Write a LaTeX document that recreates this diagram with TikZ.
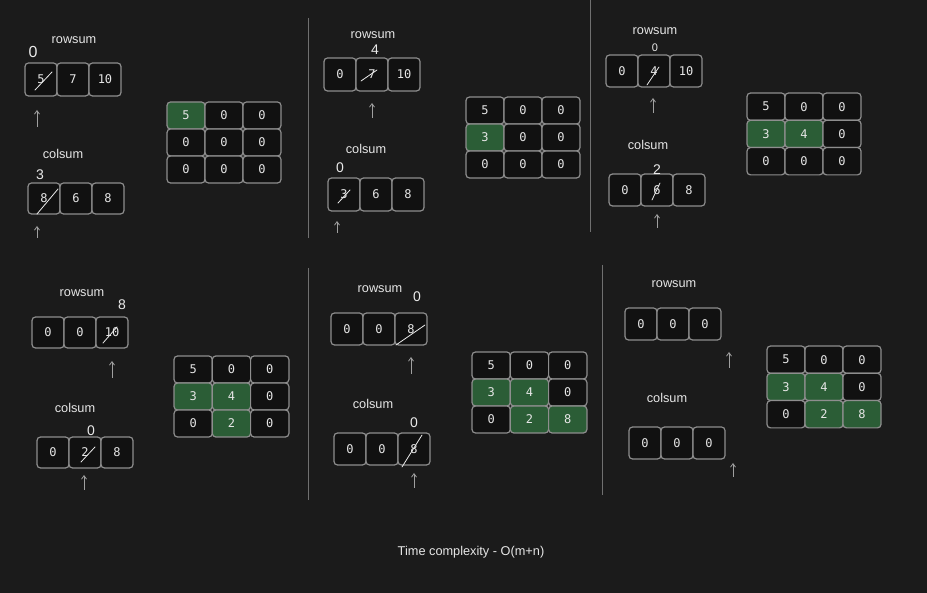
\documentclass[tikz,border=0pt]{standalone}
\usepackage{fontspec}
\setmainfont{Liberation Sans}
\newfontfamily\monof{DejaVu Sans Mono}
\usetikzlibrary{arrows.meta}
\definecolor{bgc}{HTML}{1B1B1B}
\definecolor{cellfill}{HTML}{111111}
\definecolor{cellline}{HTML}{8E8E8E}
\definecolor{txt}{HTML}{E6E6E6}
\definecolor{grn}{HTML}{2B5D36}
\definecolor{divc}{HTML}{707070}
\definecolor{pen}{HTML}{A0A0A0}
\newcommand\cellat[7]{\node[cell,fill=#6,minimum width=#4pt,minimum height=#5pt] (#1) at ({#2+#4/2},{#3+#5/2}) {#7};}
\newcommand\cellrow[8]{%
  \cellat{#1a}{#2}{#3}{#4}{#5}{cellfill}{#6}%
  \cellat{#1b}{#2+#4}{#3}{#4}{#5}{cellfill}{#7}%
  \cellat{#1c}{#2+2*#4}{#3}{#4}{#5}{cellfill}{#8}}
\newcommand\gridcells[6]{%
  \foreach \v/\f [count=\k from 0] in {#6} {%
    \pgfmathtruncatemacro\rr{int(\k/3)}%
    \pgfmathtruncatemacro\cc{mod(\k,3)}%
    \node[cell,fill=\f,minimum width=#4pt,minimum height=#5pt] (#1-\rr-\cc) at ({#2+(\cc+0.5)*#4},{#3+(\rr+0.5)*#5}) {\v};
  }}
\begin{document}
\begin{tikzpicture}[x=1pt,y=-1pt,
  cell/.style={draw=cellline,line width=1.2pt,rounded corners=3.5pt,inner sep=0pt,text=txt,font=\monof\fontsize{12}{12}\selectfont},
  lbl/.style={text=txt,font=\fontsize{12.75}{14}\selectfont,inner sep=0pt},
  hand/.style={text=txt!85,font=\fontsize{14}{15}\selectfont,inner sep=0pt},
  uparrow/.style={draw=pen,line width=0.8pt,-{Straight Barb[length=3.5pt,width=5pt]}},
  strike/.style={draw=txt!85,line width=0.8pt,line cap=round},
  divider/.style={draw=divc,line width=1pt}]
\fill[bgc] (0,0) rectangle (927,593);
\useasboundingbox (0,0) rectangle (927,593);

% dividers
\draw[divider] (308,18) -- (308,238);
\draw[divider] (590,0) -- (590,232);
\draw[divider] (308,268) -- (308,500);
\draw[divider] (602,265) -- (602,495);

% ---------- Panel 1 ----------
\node[lbl] (l1r) at (74,40) {rowsum};
\node[lbl] (l1c) at (63,154) {colsum};
\cellrow{p1r}{25}{63}{32}{33}{5}{7}{10}
\cellrow{p1c}{28}{183}{32}{31}{8}{6}{8}
\gridcells{m1}{167}{102}{38}{27}{5/grn,0/cellfill,0/cellfill,0/cellfill,0/cellfill,0/cellfill,0/cellfill,0/cellfill,0/cellfill}
\node[hand,font=\fontsize{16}{17}\selectfont] (h1a) at (33,52) {0};
\node[hand] (h1b) at (40,175) {3};
\draw[strike] (35,90) -- (52,72);
\draw[strike] (37,214) -- (58,189);
\coordinate (a1s) at (37,127); \coordinate (a1e) at (37,110);
\draw[uparrow] (a1s) -- (a1e);
\coordinate (a2s) at (37,238); \coordinate (a2e) at (37,226);
\draw[uparrow] (a2s) -- (a2e);

% ---------- Panel 2 ----------
\node[lbl] (l2r) at (373,35) {rowsum};
\node[lbl] (l2c) at (366,149) {colsum};
\cellrow{p2r}{324}{58}{32}{33}{0}{7}{10}
\cellrow{p2c}{328}{178}{32}{33}{3}{6}{8}
\gridcells{m2}{466}{97}{38}{27}{5/cellfill,0/cellfill,0/cellfill,3/grn,0/cellfill,0/cellfill,0/cellfill,0/cellfill,0/cellfill}
\node[hand] (h2a) at (375,50) {4};
\node[hand] (h2b) at (340,168) {0};
\draw[strike] (361,81) -- (377,70);
\draw[strike] (338,203) -- (350,190);
\coordinate (a3s) at (372,118); \coordinate (a3e) at (372,103);
\draw[uparrow] (a3s) -- (a3e);
\coordinate (a4s) at (337,233); \coordinate (a4e) at (337,221);
\draw[uparrow] (a4s) -- (a4e);

% ---------- Panel 3 ----------
\node[lbl] (l3r) at (655,31) {rowsum};
\node[lbl] (l3c) at (648,145) {colsum};
\cellrow{p3r}{606}{55}{32}{32}{0}{4}{10}
\cellrow{p3c}{609}{174}{32}{32}{0}{6}{8}
\gridcells{m3}{747}{93}{38}{27.3}{5/cellfill,0/cellfill,0/cellfill,3/grn,4/grn,0/cellfill,0/cellfill,0/cellfill,0/cellfill}
\node[hand,font=\fontsize{11}{12}\selectfont] (h3a) at (655,48) {0};
\node[hand] (h3b) at (657,170) {2};
\draw[strike] (647,85) -- (659,67);
\draw[strike] (652,200) -- (660,183);
\coordinate (a5s) at (653,113); \coordinate (a5e) at (653,98);
\draw[uparrow] (a5s) -- (a5e);
\coordinate (a6s) at (657,228); \coordinate (a6e) at (657,214);
\draw[uparrow] (a6s) -- (a6e);

% ---------- Panel 4 ----------
\node[lbl] (l4r) at (82,293) {rowsum};
\node[lbl] (l4c) at (75,408) {colsum};
\cellrow{p4r}{32}{317}{32}{31}{0}{0}{10}
\cellrow{p4c}{37}{437}{32}{31}{0}{2}{8}
\gridcells{m4}{174}{356}{38.3}{27}{5/cellfill,0/cellfill,0/cellfill,3/grn,4/grn,0/cellfill,0/cellfill,2/grn,0/cellfill}
\node[hand] (h4a) at (122,305) {8};
\node[hand] (h4b) at (91,431) {0};
\draw[strike] (103,343) -- (117,327);
\draw[strike] (81,462) -- (95,447);
\coordinate (a7s) at (112,378); \coordinate (a7e) at (112,361);
\draw[uparrow] (a7s) -- (a7e);
\coordinate (a8s) at (84,490); \coordinate (a8e) at (84,475);
\draw[uparrow] (a8s) -- (a8e);

% ---------- Panel 5 ----------
\node[lbl] (l5r) at (380,289) {rowsum};
\node[lbl] (l5c) at (373,404) {colsum};
\cellrow{p5r}{331}{313}{32}{32}{0}{0}{8}
\cellrow{p5c}{334}{433}{32}{32}{0}{0}{8}
\gridcells{m5}{472}{352}{38.3}{27}{5/cellfill,0/cellfill,0/cellfill,3/grn,4/grn,0/cellfill,0/cellfill,2/grn,8/grn}
\node[hand] (h5a) at (417,297) {0};
\node[hand] (h5b) at (414,423) {0};
\draw[strike] (396,345) -- (425,325);
\draw[strike] (402,467) -- (422,435);
\coordinate (a9s) at (411,374); \coordinate (a9e) at (411,357);
\draw[uparrow] (a9s) -- (a9e);
\coordinate (a10s) at (414,488); \coordinate (a10e) at (414,473);
\draw[uparrow] (a10s) -- (a10e);

% ---------- Panel 6 ----------
\node[lbl] (l6r) at (674,284) {rowsum};
\node[lbl] (l6c) at (667,398) {colsum};
\cellrow{p6r}{625}{308}{32}{32}{0}{0}{0}
\cellrow{p6c}{629}{427}{32}{32}{0}{0}{0}
\gridcells{m6}{767}{346}{38}{27.3}{5/cellfill,0/cellfill,0/cellfill,3/grn,4/grn,0/cellfill,0/cellfill,2/grn,8/grn}
\coordinate (a11s) at (729,368); \coordinate (a11e) at (729,352);
\draw[uparrow] (a11s) -- (a11e);
\coordinate (a12s) at (733,477); \coordinate (a12e) at (733,463);
\draw[uparrow] (a12s) -- (a12e);

% title
\node[lbl] (title) at (471,552) {Time complexity - O(m+n)};
\end{tikzpicture}
\end{document}
